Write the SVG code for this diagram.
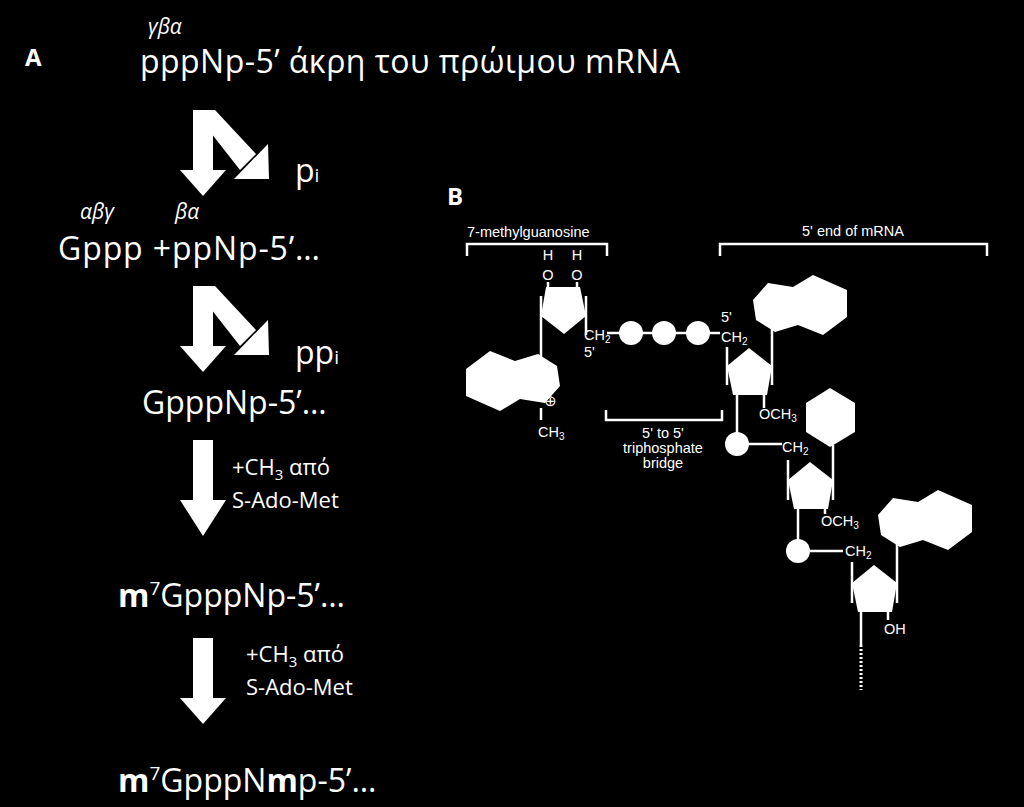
<svg xmlns="http://www.w3.org/2000/svg" xmlns:xlink="http://www.w3.org/1999/xlink" width="1024" height="807" viewBox="0 0 1024 807">
<style>
.t{font-family:"Open Sans",sans-serif;fill:#fff}
.big{font-size:32px}
.gr{font-size:21px;font-style:italic}
.sm{font-size:22px}
.b{font-family:"Liberation Sans",Arial,sans-serif;fill:#fff;font-size:14.5px}
.ln{stroke:#fff;stroke-width:2.5;fill:none}
.w{fill:#fff}
</style>
<defs>
<polygon id="pur" points="0,25 15,8 40,12 60,0 94,15 94,42 70,60 45,50 22,57 3,45" fill="#fff"/>
<g id="pent"><polygon points="22,0 45,18 40,47 6,47 0,18" fill="#fff"/></g>
</defs>
<rect width="1024" height="807" fill="#000"/>
<g id="panelA">
<text class="t" x="25" y="66" font-size="24" font-weight="bold">A</text>
<text class="t gr" x="148" y="34">γβα</text>
<text class="t big" x="140" y="73" textLength="540">pppNp-5’ άκρη του πρώιμου mRNA</text>
<g id="arrow1" class="w">
<rect x="193" y="110" width="20" height="62"/>
<polygon points="180,170 226,170 203,196"/>
<polygon points="193,110 215,110 256,154 240,170"/>
<polygon points="234,179 269,179 268,144"/>
</g>
<text class="t big" x="295" y="182">p<tspan font-size="19">i</tspan></text>
<text class="t gr" x="80" y="219">αβγ</text>
<text class="t gr" x="175" y="219">βα</text>
<text class="t big" x="58" y="260" textLength="262">Gppp +ppNp-5’…</text>
<g id="arrow2" class="w" transform="translate(0,176)">
<rect x="193" y="110" width="20" height="62"/>
<polygon points="180,170 226,170 203,196"/>
<polygon points="193,110 215,110 256,154 240,170"/>
<polygon points="234,179 269,179 268,144"/>
</g>
<text class="t big" x="295" y="364">pp<tspan font-size="19">i</tspan></text>
<text class="t big" x="142" y="414">GpppNp-5’…</text>
<g id="arrow3" class="w">
<rect x="193" y="440" width="20" height="62"/>
<polygon points="180,500 226,500 203,536"/>
</g>
<text class="t sm" x="232" y="475">+CH<tspan font-size="15" dy="5">3</tspan><tspan dy="-5"> από</tspan></text>
<text class="t sm" x="232" y="508">S-Ado-Met</text>
<text class="t big" x="118" y="607"><tspan font-weight="bold">m</tspan><tspan font-size="19" dy="-12">7</tspan><tspan dy="12">GpppNp-5’…</tspan></text>
<g id="arrow4" class="w">
<rect x="193" y="638" width="20" height="62"/>
<polygon points="180,698 226,698 203,724"/>
</g>
<text class="t sm" x="246" y="662">+CH<tspan font-size="15" dy="5">3</tspan><tspan dy="-5"> από</tspan></text>
<text class="t sm" x="246" y="695">S-Ado-Met</text>
<text class="t big" x="118" y="792"><tspan font-weight="bold">m</tspan><tspan font-size="19" dy="-12">7</tspan><tspan dy="12">GpppN</tspan><tspan font-weight="bold">m</tspan>p-5’…</text>
</g>
<g id="panelB">
<text class="t" x="447" y="205" font-size="24" font-weight="bold">B</text>
<text class="b" x="467" y="237">7-methylguanosine</text>
<path class="ln" d="M467,256 V244 H607 V256"/>
<text class="b" x="853" y="236" text-anchor="middle">5' end of mRNA</text>
<path class="ln" d="M720,256 V244 H987 V256"/>
<path class="ln" d="M606,410 V420 H722 V410"/>
<text class="b" x="663" y="438" text-anchor="middle">5' to 5'</text>
<text class="b" x="663" y="453" text-anchor="middle">triphosphate</text>
<text class="b" x="663" y="468" text-anchor="middle">bridge</text>
<g id="cap">
<text class="b" x="548" y="260" text-anchor="middle">H</text>
<text class="b" x="577" y="260" text-anchor="middle">H</text>
<text class="b" x="548" y="280" text-anchor="middle">O</text>
<text class="b" x="577" y="280" text-anchor="middle">O</text>
<path class="ln" d="M548,282 V292 M577,282 V292"/>
<g transform="translate(586,334) rotate(180)"><use xlink:href="#pent"/></g>
<path class="ln" d="M541,296 V360 M586,296 V335"/>
<g transform="translate(560,411) rotate(180)"><use xlink:href="#pur"/></g>
<text class="b" x="584" y="340">CH<tspan font-size="10" dy="3">2</tspan></text>
<text class="b" x="584" y="357">5'</text>
<text class="b" x="550" y="406" text-anchor="middle">⊕</text>
<path class="ln" d="M541,408 V420"/>
<text class="b" x="538" y="437">CH<tspan font-size="10" dy="3">3</tspan></text>
</g>
<g id="bridge">
<path class="ln" d="M607,333 H720"/>
<circle cx="631" cy="333" r="12" class="w"/>
<circle cx="664" cy="333" r="12" class="w"/>
<circle cx="698" cy="333" r="12" class="w"/>
</g>
<g id="nuc1">
<text class="b" x="721" y="322">5'</text>
<text class="b" x="721" y="342">CH<tspan font-size="10" dy="3">2</tspan></text>
<use xlink:href="#pent" transform="translate(727,348)"/>
<path class="ln" d="M727,347 V385 M772,328 V385"/>
<use xlink:href="#pur" transform="translate(753,275)"/>
<path class="ln" d="M764,393 V408"/>
<text class="b" x="759" y="419">OCH<tspan font-size="10" dy="3">3</tspan></text>
<path class="ln" d="M737,393 V444 H782"/>
<circle cx="737" cy="444" r="12" class="w"/>
</g>
<g id="nuc2">
<text class="b" x="782" y="452">CH<tspan font-size="10" dy="3">2</tspan></text>
<use xlink:href="#pent" transform="translate(788,462)"/>
<path class="ln" d="M788,460 V500 M833,445 V500"/>
<polygon class="w" points="830,388 855,403 855,432 830,447 806,432 806,403"/>
<path class="ln" d="M825,508 V514"/>
<text class="b" x="821" y="526">OCH<tspan font-size="10" dy="3">3</tspan></text>
<path class="ln" d="M798,508 V551 H843"/>
<circle cx="798" cy="551" r="12" class="w"/>
</g>
<g id="nuc3">
<text class="b" x="845" y="556">CH<tspan font-size="10" dy="3">2</tspan></text>
<use xlink:href="#pent" transform="translate(852,565)"/>
<path class="ln" d="M852,562 V603 M897,540 V603"/>
<use xlink:href="#pur" transform="translate(878,490)"/>
<path class="ln" d="M888,612 V620"/>
<text class="b" x="884" y="634">OH</text>
<path class="ln" d="M861,612 V645"/>
<path stroke="#fff" stroke-width="3" stroke-dasharray="2,2" d="M861,645 V690"/>
</g>
</g>
</svg>
